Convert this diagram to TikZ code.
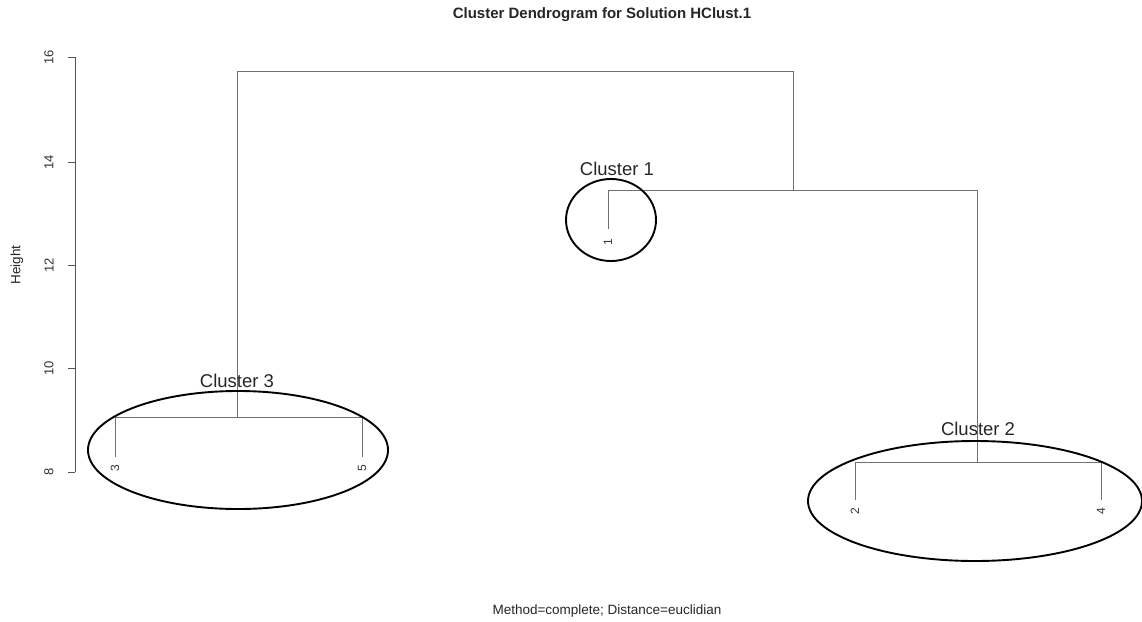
\documentclass[tikz,border=0pt]{standalone}
\usepackage{fontspec}
\setmainfont{Liberation Sans}
\definecolor{dendro}{HTML}{707070}
\definecolor{axisc}{HTML}{555555}
\begin{document}
\begin{tikzpicture}[x=1pt,y=-1pt,
  dline/.style={draw=dendro,line width=0.9pt},
  ring/.style={draw=black,line width=1.9pt},
  leaflab/.style={rotate=90,anchor=east,inner sep=0pt,font=\fontsize{12}{14}\selectfont,text=black!80},
  ticklab/.style={rotate=90,inner sep=0pt,font=\fontsize{13}{15}\selectfont,text=black!80},
  clab/.style={inner sep=0pt,font=\fontsize{18.5}{20}\selectfont,text=black!85}]
\useasboundingbox (0,0) rectangle (1142,621);
% title and captions
\node[inner sep=0pt,font=\bfseries\fontsize{15}{17}\selectfont,text=black!85] (title) at (602,15) {Cluster Dendrogram for Solution HClust.1};
\node[inner sep=0pt,font=\fontsize{13.5}{15}\selectfont,text=black!85] (method) at (607,611) {Method=complete; Distance=euclidian};
\node[rotate=90,inner sep=0pt,font=\fontsize{13.5}{15}\selectfont,text=black!85] (ylab) at (17,265) {Height};
% axis
\coordinate (atop) at (75,57);
\coordinate (abot) at (75,472);
\draw[axisc,line width=0.8pt] (atop) -- (abot);
\foreach \v/\yy in {16/57,14/162,12/265,10/368,8/472}{
  \coordinate (t\v) at (75,\yy);
  \coordinate (tl\v) at (68,\yy);
  \draw[axisc,line width=0.8pt] (t\v) -- (tl\v);
  \node[ticklab] (lab\v) at (49,\yy) {\v};
}
% dendrogram joints
\coordinate (top) at (237,71);
\coordinate (topR) at (793,71);
\coordinate (c3) at (237,417);
\coordinate (c3l) at (115,417);
\coordinate (c3r) at (362,417);
\coordinate (l3) at (115,457);
\coordinate (l5) at (362,457);
\coordinate (m) at (793,190);
\coordinate (ml) at (608,190);
\coordinate (mr) at (977,190);
\coordinate (l1) at (608,229);
\coordinate (c2) at (977,462);
\coordinate (c2l) at (855,462);
\coordinate (c2r) at (1101,462);
\coordinate (l2) at (855,500);
\coordinate (l4) at (1101,500);
\draw[dline] (c3) -- (top) -- (topR) -- (m);
\draw[dline] (l3) -- (c3l) -- (c3r) -- (l5);
\draw[dline] (l1) -- (ml) -- (mr) -- (c2);
\draw[dline] (l2) -- (c2l) -- (c2r) -- (l4);
% leaf labels
\node[leaflab] (n3) at ([yshift=-8pt]l3) {3};
\node[leaflab] (n5) at ([yshift=-8pt]l5) {5};
\node[leaflab] (n1) at ([yshift=-10pt]l1) {1};
\node[leaflab] (n2) at ([yshift=-8pt]l2) {2};
\node[leaflab] (n4) at ([yshift=-8pt]l4) {4};
% cluster rings
\draw[ring] (611,220) ellipse [x radius=45, y radius=41];
\draw[ring] (238,450) ellipse [x radius=150, y radius=59];
\draw[ring] (975,501) ellipse [x radius=167, y radius=60];
\node[clab] (k1) at (617,169) {Cluster 1};
\node[clab] (k3) at (237,381) {Cluster 3};
\node[clab] (k2) at (978,429) {Cluster 2};
\end{tikzpicture}
\end{document}
